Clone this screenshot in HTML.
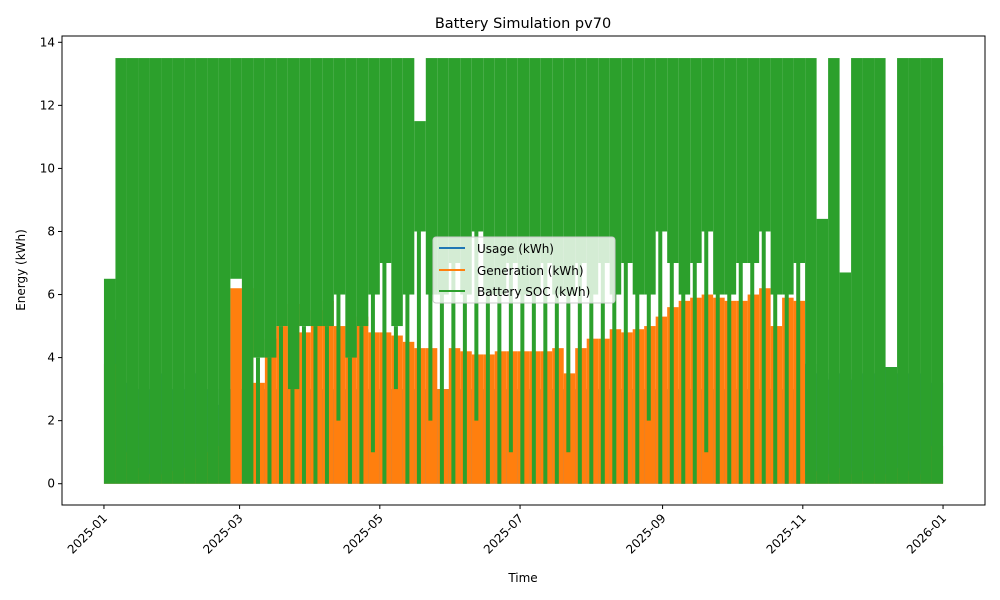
<!DOCTYPE html>
<html><head><meta charset="utf-8"><style>
body{margin:0;background:#fff;font-family:"Liberation Sans","DejaVu Sans",sans-serif;}
svg text{font-family:"DejaVu Sans","Liberation Sans",sans-serif;}
</style></head><body>
<svg id="chart" width="1000" height="600" viewBox="0 0 1000 600" xmlns="http://www.w3.org/2000/svg" style="position:absolute;left:0;top:0">
<rect width="1000" height="600" fill="#fff"/>
<g id="marks"></g>
<g id="axes"></g>
</svg>
<script>
// 5-day bins starting 2025-01-01 (73 bins)
const binDays = 5;
const genPeak = [3.8,1,0.5,0.3,0.3,0.4, 0.5,0.8,1.0,1.2,2.0, 6.2,6.2, 3.2,4.6,5.0,5.7,4.8,
 5.5,5.8,5.0,5.0,5.3,4.8, 4.8,4.7,4.5,4.3,4.3,3.0,4.3, 4.2,4.1,4.1,4.2,4.2,4.2,4.2,
 4.2,4.3,3.5,4.3,4.6,4.6, 4.9,4.8,4.9,5.0,5.3,5.6, 5.8,5.9,6.0,5.9,5.8,5.8, 6.0,6.2,5.0,5.9,5.8,
 0.3,0.4,0.3,0.5,0.3,0.4,0.3,0.3,0.5,0.4,0.3,1.2];
const socHigh = [6.5,13.5,13.5,13.5,13.5,13.5, 13.5,13.5,13.5,13.5,13.5, 13.5,13.5, 13.5,13.5,13.5,13.5,13.5,
 13.5,13.5,13.5,13.5,13.5,13.5, 13.5,13.5,13.5,11.5,13.5,13.5,13.5, 13.5,13.5,13.5,13.5,13.5,13.5,13.5,
 13.5,13.5,13.5,13.5,13.5,13.5, 13.5,13.5,13.5,13.5,13.5,13.5, 13.5,13.5,13.5,13.5,13.5,13.5, 13.5,13.5,13.5,13.5,13.5,
 13.5,8.4,13.5,6.7,13.5,13.5,13.5,3.7,13.5,13.5,13.5,13.5];
// typical daily low of the bin
const socLow = [0,0,0,0,0,0, 0,0,0,0,0, 6.5,0, 4,4,5,3,5,
 5,5,6,4,5,6, 7,5,6,8,6,6,7, 6,8,6,6,7,6,6,
 7,6,6,7,6,7, 6,7,6,6,8,7, 6,7,8,6,6,7, 7,8,6,6,7,
 0,0,0,0,0,0,0,0,0,0,0,0];
// deepest dip within the bin
const socMin = [0,0,0,0,0,0, 0,0,0,0,0, 6.5,0, 0,0,0,0,0,
 0,0,2,0,0,1, 0,3,0,0,2,0,0, 0,2,0,0,1,0,0,
 0,0,1,0,0,0, 0,0,0,2,0,0, 0,0,1,0,0,0, 0,0,0,0,0,
 0,0,0,0,0,0,0,0,0,0,0,0];
const usagePeak = [5.2,3.2,3,3,3.5,3, 3,3.5,3,2.5,3, 3,3, 3,3,3,3,3,
 3,3,3,3,3,3, 3,3,3,3,3,3,3, 3,3,3,3,3,3,3, 3,3,3,3,3,3, 3,3,3,3,3,3, 3,3,3,3,3,3, 3,3,3,3,3,
 3.8,3.5,3.3,3.5,3.3,3.5,3.5,3.7,3.5,3.5,3.5,3.2];
const yTicks = [0,2,4,6,8,10,12,14];
const xTickLabels = ["2025-01","2025-03","2025-05","2025-07","2025-09","2025-11","2026-01"];
const xTickDays = [0,59,120,181,243,304,365];

const NS="http://www.w3.org/2000/svg";
const L=62,R=985,T=36,B=505;
const dMin=-18.25,dMax=383.25,vMin=-0.675,vMax=14.2;
function xs(d){return L+(d-dMin)/(dMax-dMin)*(R-L);}
function ys(v){return B-(v-vMin)/(vMax-vMin)*(B-T);}
const marks=document.getElementById('marks'),axes=document.getElementById('axes');
function mk(tag,attrs,parent){const e=document.createElementNS(NS,tag);for(const k in attrs)e.setAttribute(k,attrs[k]);parent.appendChild(e);return e;}
function drawBars(arrLo,arrHi,color,name){
  for(let i=0;i<arrHi.length;i++){
    const d0=i*binDays,d1=Math.min(365,d0+binDays);
    const lo=arrLo?arrLo[i]:0,hi=arrHi[i];
    const r=mk('rect',{x:xs(d0),y:ys(hi),width:xs(d1)-xs(d0),height:Math.max(0,ys(lo)-ys(hi)),fill:color},marks);
    
    
  }
}
drawBars(null,usagePeak,'#1f77b4','usage-bar');
drawBars(null,genPeak,'#ff7f0e','generation-bar');
drawBars(socLow,socHigh,'#2ca02c','soc-bar');
for(let i=0;i<socMin.length;i++){
  if(socMin[i]>=socLow[i])continue;
  const d=i*binDays+2;
  const ln=mk('line',{x1:xs(d),x2:xs(d),y1:ys(socMin[i]),y2:ys(socLow[i]),stroke:'#2ca02c','stroke-width':4},marks);
  
  
}
const fr=mk('rect',{x:L,y:T,width:R-L,height:B-T,fill:'none',stroke:'#000','stroke-width':1},axes);


yTicks.forEach(v=>{
  const y=ys(v);
  mk('line',{x1:L-4,x2:L,y1:y,y2:y,stroke:'#000'},axes);
  const t=mk('text',{x:L-7,y:y+4,'text-anchor':'end','font-size':12},axes);t.textContent=v;
  
  
});
xTickDays.forEach((d,i)=>{
  const x=xs(d);
  mk('line',{x1:x,x2:x,y1:B,y2:B+4,stroke:'#000'},axes);
  const t=mk('text',{x:x+4,y:B+14,'text-anchor':'end','font-size':12,transform:`rotate(-45 ${x+4} ${B+14})`},axes);
  t.textContent=xTickLabels[i];
  
  
});
</script>
<svg style="position:absolute;left:0;top:0" width="1000" height="600">
<text x="523" y="28" text-anchor="middle" font-size="14.5" font-family="DejaVu Sans, sans-serif">Battery Simulation pv70</text>
<text x="523" y="582" text-anchor="middle" font-size="12" font-family="DejaVu Sans, sans-serif">Time</text>
<text x="25" y="270" text-anchor="middle" font-size="12" font-family="DejaVu Sans, sans-serif" transform="rotate(-90 25 270)">Energy (kWh)</text>
<g>
<rect x="433" y="237" width="182" height="66" rx="3" fill="#fff" fill-opacity="0.8" stroke="#ccc"/>
<line x1="439" x2="465" y1="248" y2="248" stroke="#1f77b4" stroke-width="2"/>
<text x="477" y="253" font-size="12" font-family="DejaVu Sans, sans-serif">Usage (kWh)</text>
<line x1="439" x2="465" y1="270" y2="270" stroke="#ff7f0e" stroke-width="2"/>
<text x="477" y="275" font-size="12" font-family="DejaVu Sans, sans-serif">Generation (kWh)</text>
<line x1="439" x2="465" y1="291" y2="291" stroke="#2ca02c" stroke-width="2"/>
<text x="477" y="296" font-size="12" font-family="DejaVu Sans, sans-serif">Battery SOC (kWh)</text>
</g>
</svg>
</body></html>
